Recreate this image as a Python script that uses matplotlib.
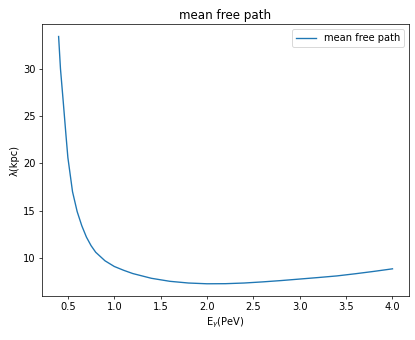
import matplotlib
matplotlib.use('Agg')
import matplotlib.pyplot as plt

plt.rcParams['font.size'] = 11

# photon energy (PeV) and mean free path (kpc)
energy = [0.40, 0.42, 0.45, 0.48, 0.50, 0.55, 0.60, 0.65, 0.70, 0.75,
          0.80, 0.90, 1.00, 1.10, 1.20, 1.40, 1.60, 1.80, 2.00, 2.20,
          2.40, 2.60, 2.80, 3.00, 3.20, 3.40, 3.60, 3.80, 4.00]
mfp = [33.4, 30.0, 26.5, 22.9, 20.6, 17.0, 14.9, 13.4, 12.2, 11.3,
       10.6, 9.7, 9.1, 8.7, 8.35, 7.85, 7.53, 7.35, 7.27, 7.28,
       7.35, 7.47, 7.61, 7.77, 7.93, 8.1, 8.33, 8.58, 8.85]

fig = plt.figure(figsize=(415 / 65, 340 / 65), dpi=65)
ax = fig.add_axes([0.101, 0.129, 0.885, 0.800])
ax.plot(energy, mfp, label='mean free path')
ax.set_title('mean free path')
ax.set_xlabel(r'E$_\gamma$(PeV)')
ax.set_ylabel('λ(kpc)')
ax.legend(loc='upper right')
fig.savefig('out.png', dpi=65)
